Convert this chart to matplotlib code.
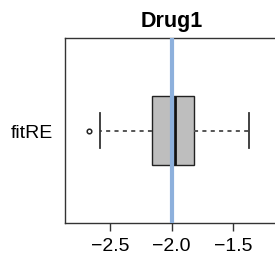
import matplotlib
matplotlib.use("Agg")
import matplotlib.pyplot as plt

plt.rcParams['font.family'] = ['Liberation Sans', 'DejaVu Sans']

# data
group = "fitRE"
title = "Drug1"
q1, median, q3 = -2.159, -1.972, -1.817
whisker_lo, whisker_hi = -2.581, -1.370
outliers = [-2.671]
ref_value = -2.0
xticks = [-2.5, -2.0, -1.5]

fig = plt.figure(figsize=(2.75, 2.55), dpi=100)
ax = fig.add_axes([65 / 275, 31 / 255, 214 / 275, 185 / 255])

stats = [dict(med=median, q1=q1, q3=q3, whislo=whisker_lo, whishi=whisker_hi,
              fliers=outliers, label=group)]
ax.bxp(stats, positions=[1], widths=0.4, vert=False, patch_artist=True,
       boxprops=dict(facecolor='#BEBEBE', edgecolor='#222222', linewidth=1.0),
       medianprops=dict(color='#111111', linewidth=2.0),
       whiskerprops=dict(color='#555555', linestyle=(0, (2.1, 2.2)), linewidth=1.4),
       capprops=dict(color='#333333', linewidth=1.3),
       capwidths=0.2,
       flierprops=dict(marker='o', markersize=3.3, markerfacecolor='white',
                       markeredgecolor='#222222', markeredgewidth=1.1))

ax.axvline(ref_value, color='#8DB0DC', linewidth=3.0, zorder=5)

ax.set_xlim(-2.866, -1.126)
ax.set_ylim(0.46, 1.54)
ax.set_xticks(xticks)
ax.set_xticklabels([f"\u2212{abs(t):.1f}" for t in xticks])
ax.set_yticks([1])
ax.set_yticklabels([group])
ax.tick_params(axis='x', length=5.5, width=1, colors='#333333', labelsize=14,
               labelcolor='black', pad=4.5)
ax.tick_params(axis='y', length=0, labelsize=14, labelcolor='black', pad=8.5)
for s in ax.spines.values():
    s.set_color('#333333')
    s.set_linewidth(1.0)
ax.set_title(title, fontsize=15.5, fontweight='bold', pad=8.4)

fig.savefig("out.png", dpi=100)
